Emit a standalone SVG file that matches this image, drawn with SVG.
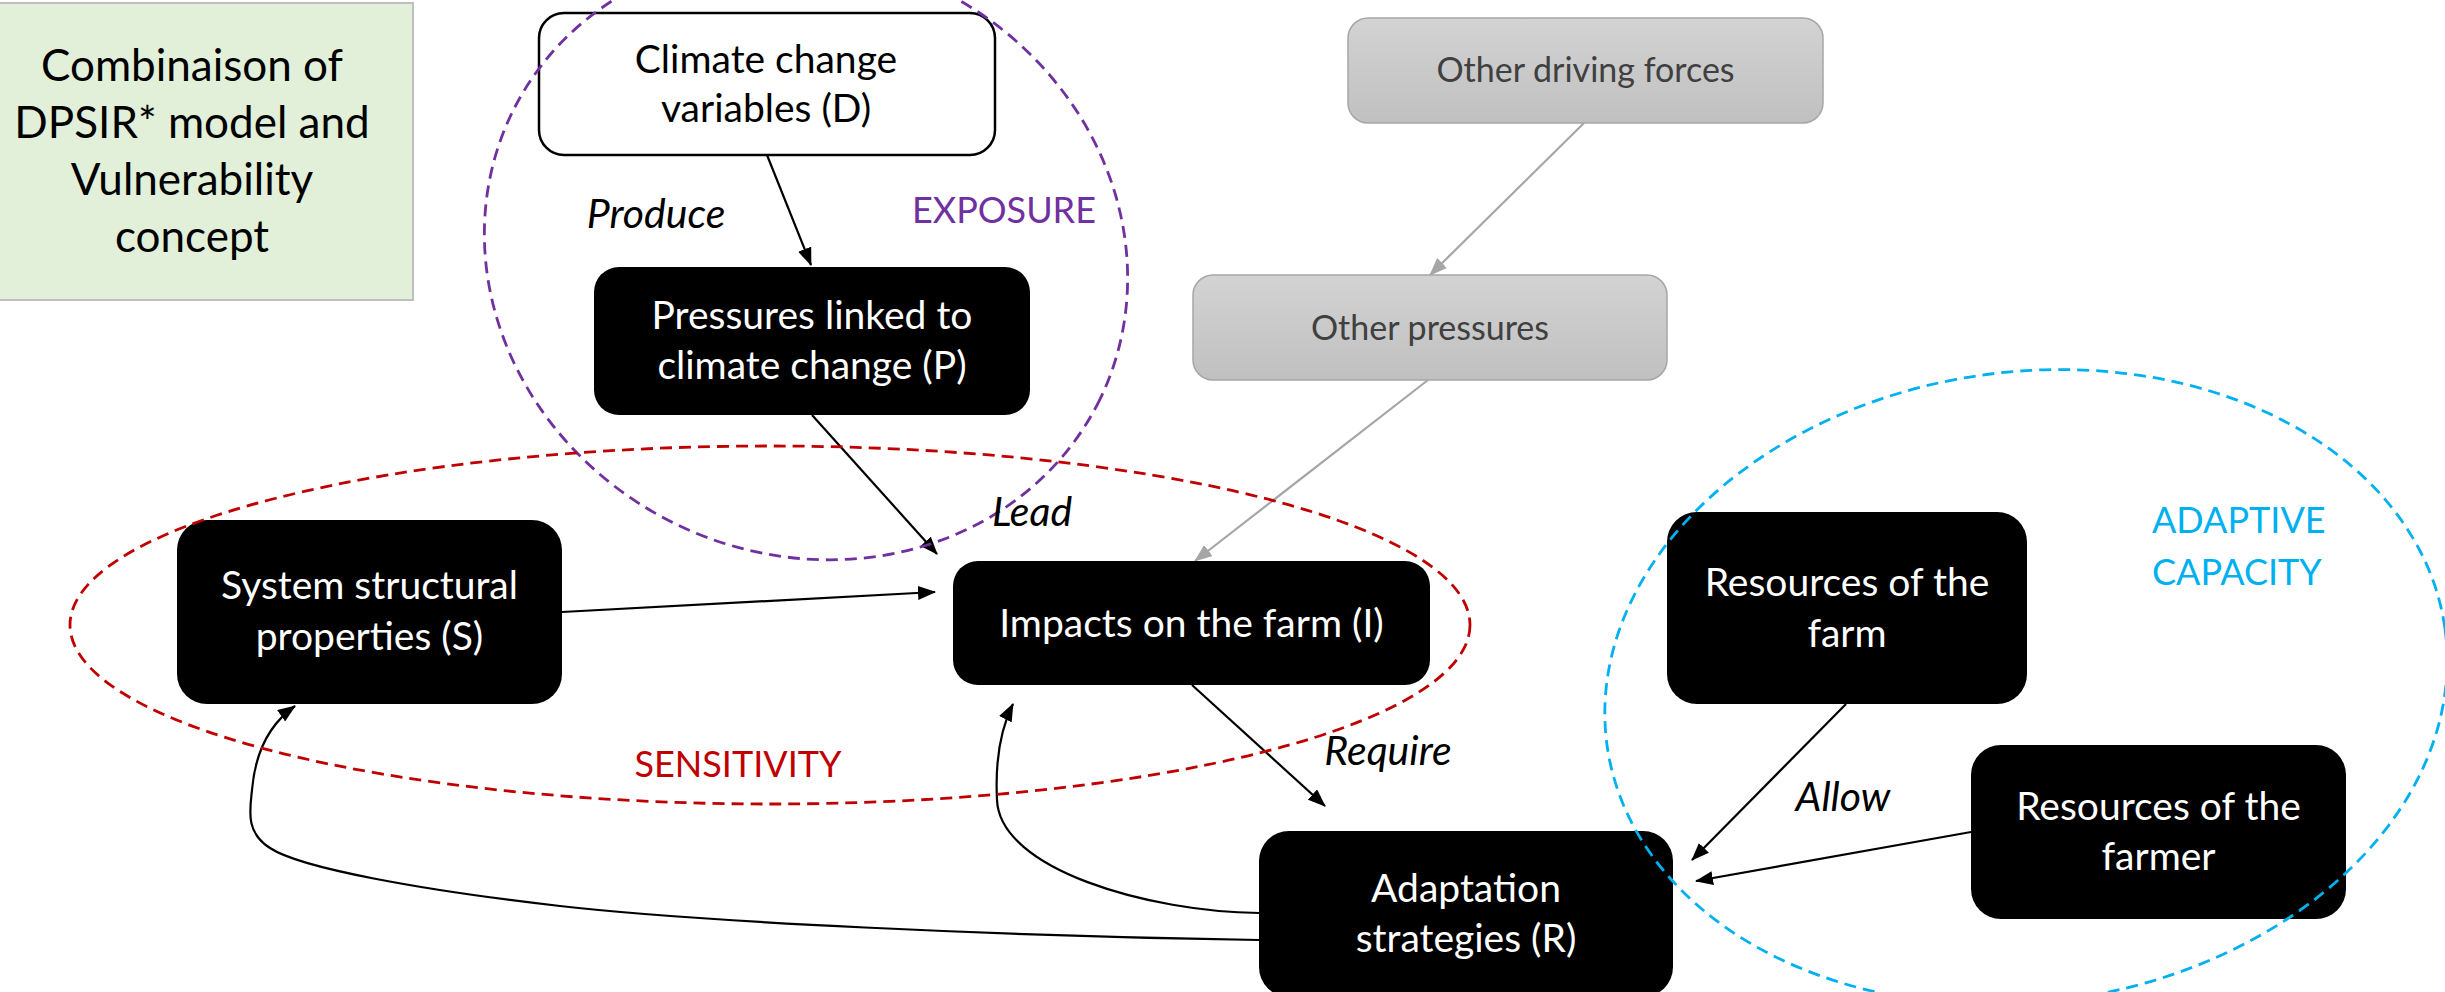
<svg xmlns="http://www.w3.org/2000/svg" width="2445" height="992" viewBox="0 0 2445 992">
<style>
  .txt { font-family: Lato, "Open Sans", sans-serif; }
  .node-black { fill: #000000; }
  .node-white { fill: #ffffff; stroke: #000000; stroke-width: 2.5; }
  .node-gray { fill: url(#grayGrad); stroke: #a6a6a6; stroke-width: 1.5; }
  .node-green { fill: #e2efd9; stroke: #bfbfbf; stroke-width: 2; }
  .wt { font-family: Lato, "Open Sans", sans-serif; font-size: 39px; fill: #ffffff; text-anchor: middle; }
  .bt { font-family: Lato, "Open Sans", sans-serif; font-size: 39px; fill: #000000; text-anchor: middle; }
  .gt { font-family: Lato, "Open Sans", sans-serif; font-size: 34px; fill: #404040; text-anchor: middle; }
  .green-t { font-family: Lato, "Open Sans", sans-serif; font-size: 44px; fill: #000000; text-anchor: middle; }
  .lbl { font-family: Lato, "Open Sans", sans-serif; font-size: 41px; font-style: italic; fill: #000000; text-anchor: middle; }
  .conn { fill: none; stroke: #000000; stroke-width: 2.2; marker-end: url(#arrow); }
  .conn-gray { fill: none; stroke: #a6a6a6; stroke-width: 2.2; marker-end: url(#arrowGray); }
  .zone { fill: none; stroke-width: 2.8; stroke-dasharray: 12 7; }
  .zone-t { font-family: Lato, "Open Sans", sans-serif; font-size: 36px; }
</style>
<defs>
  <linearGradient id="grayGrad" x1="0" y1="0" x2="0" y2="1">
    <stop offset="0" stop-color="#d3d3d3"/>
    <stop offset="1" stop-color="#c0c0c0"/>
  </linearGradient>
  <marker id="arrow" viewBox="0 0 18 14" refX="17" refY="7" markerWidth="18" markerHeight="14" markerUnits="userSpaceOnUse" orient="auto">
    <path d="M0,0 L18,7 L0,14 z" fill="#000000"/>
  </marker>
  <marker id="arrowGray" viewBox="0 0 18 14" refX="17" refY="7" markerWidth="18" markerHeight="14" markerUnits="userSpaceOnUse" orient="auto">
    <path d="M0,0 L18,7 L0,14 z" fill="#a6a6a6"/>
  </marker>
</defs>
<rect x="0" y="0" width="2445" height="992" fill="#ffffff"/>

<g id="connectors">
  <line class="conn" x1="767" y1="155" x2="811" y2="265"/>
  <line class="conn" x1="812" y1="415" x2="937" y2="554"/>
  <line class="conn" x1="562" y1="612" x2="935" y2="592"/>
  <line class="conn" x1="1192" y1="685" x2="1325" y2="806"/>
  <path class="conn" d="M1259,940 C1000,936 700,922 560,906 C420,890 300,868 270,848 C245,832 250,810 252,790 C255,755 268,725 295,706"/>
  <path class="conn" d="M1259,913 C1150,912 1000,870 997,800 C995,760 1000,730 1013,704"/>
  <line class="conn" x1="1846" y1="704" x2="1692" y2="860"/>
  <line class="conn" x1="1971" y1="832" x2="1696" y2="881"/>
  <line class="conn-gray" x1="1584" y1="123" x2="1430" y2="275"/>
  <line class="conn-gray" x1="1428" y1="380" x2="1195" y2="561"/>
</g>

<g id="title-box">
  <rect class="node-green" x="-29" y="3" width="442" height="297"/>
  <text class="green-t" x="192" y="81">Combinaison of</text>
  <text class="green-t" x="192" y="138">DPSIR* model and</text>
  <text class="green-t" x="192" y="195">Vulnerability</text>
  <text class="green-t" x="192" y="252">concept</text>
</g>

<g id="node-D">
  <rect class="node-white" x="539" y="13" width="456" height="142" rx="25"/>
  <text class="bt" x="766" y="73">Climate change</text>
  <text class="bt" x="766" y="122">variables (D)</text>
</g>

<g id="node-P">
  <rect class="node-black" x="594" y="267" width="436" height="148" rx="25"/>
  <text class="wt" x="812" y="329">Pressures linked to</text>
  <text class="wt" x="812" y="379">climate change (P)</text>
</g>

<g id="node-S">
  <rect class="node-black" x="177" y="520" width="385" height="184" rx="30"/>
  <text class="wt" x="369.5" y="599">System structural</text>
  <text class="wt" x="369.5" y="650">properties (S)</text>
</g>

<g id="node-I">
  <rect class="node-black" x="953" y="561" width="477" height="124" rx="25"/>
  <text class="wt" x="1191.5" y="637">Impacts on the farm (I)</text>
</g>

<g id="node-R">
  <rect class="node-black" x="1259" y="831" width="414" height="166" rx="30"/>
  <text class="wt" x="1466" y="902">Adaptation</text>
  <text class="wt" x="1466" y="952">strategies (R)</text>
</g>

<g id="node-farm">
  <rect class="node-black" x="1667" y="512" width="360" height="192" rx="30"/>
  <text class="wt" x="1847" y="596">Resources of the</text>
  <text class="wt" x="1847" y="647">farm</text>
</g>

<g id="node-farmer">
  <rect class="node-black" x="1971" y="745" width="375" height="174" rx="30"/>
  <text class="wt" x="2158.5" y="820">Resources of the</text>
  <text class="wt" x="2158.5" y="870">farmer</text>
</g>

<g id="node-other-driving">
  <rect class="node-gray" x="1348" y="18" width="475" height="105" rx="20"/>
  <text class="gt" x="1585.5" y="82">Other driving forces</text>
</g>

<g id="node-other-pressures">
  <rect class="node-gray" x="1193" y="275" width="474" height="105" rx="20"/>
  <text class="gt" x="1430" y="340">Other pressures</text>
</g>

<g id="zones">
  <ellipse class="zone" stroke="#7030a0" cx="806" cy="256" rx="327" ry="298" transform="rotate(26 806 256)"/>
  <ellipse class="zone" stroke="#c00000" cx="770" cy="625" rx="700" ry="179"/>
  <ellipse class="zone" stroke="#00b0f0" cx="2026" cy="687" rx="423" ry="315" transform="rotate(-8 2026 687)"/>
  <text class="zone-t" x="1004" y="223" fill="#7030a0" text-anchor="middle">EXPOSURE</text>
  <text class="zone-t" x="738" y="777" fill="#c00000" text-anchor="middle">SENSITIVITY</text>
  <text class="zone-t" x="2152" y="533" fill="#00b0f0">ADAPTIVE</text>
  <text class="zone-t" x="2152" y="585" fill="#00b0f0">CAPACITY</text>
</g>

<g id="connector-labels">
  <text class="lbl" x="656" y="228">Produce</text>
  <text class="lbl" x="1032" y="526">Lead</text>
  <text class="lbl" x="1388" y="765">Require</text>
  <text class="lbl" x="1843" y="811">Allow</text>
</g>
</svg>
